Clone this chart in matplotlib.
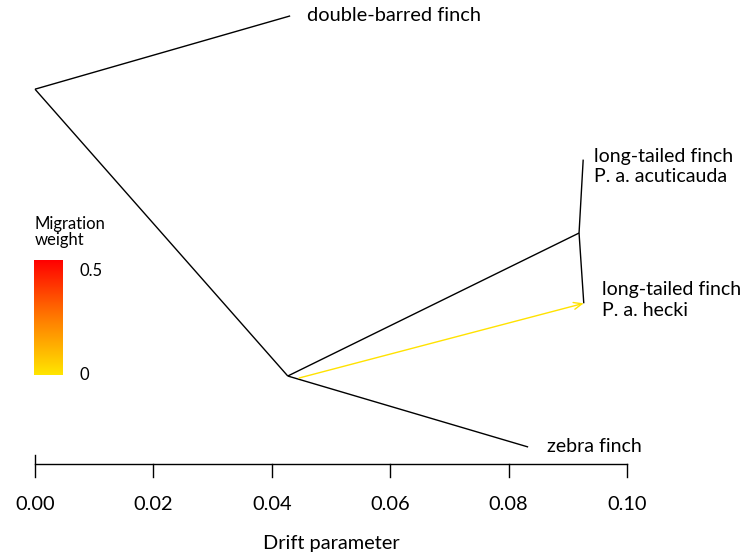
import matplotlib
matplotlib.use("Agg")
import matplotlib.pyplot as plt
import numpy as np
from matplotlib.colors import LinearSegmentedColormap

# population tree: drift along x, tip rank along y
NODE_NAMES = ["root", "double_barred", "anc", "zebra", "lt_anc", "acuticauda", "hecki"]
NODE_DRIFT = [0.0, 0.0431, 0.0427, 0.0833, 0.0919, 0.0926, 0.0927]
NODE_Y = [2.49, 3.0, 0.494, 0.0, 1.489, 2.0, 1.0]
EDGES = [("root", "double_barred"), ("root", "anc"), ("anc", "zebra"),
         ("anc", "lt_anc"), ("lt_anc", "acuticauda"), ("lt_anc", "hecki")]

TIP_NAMES = ["double_barred", "acuticauda", "hecki", "zebra"]
TIP_LABELS = ["double-barred finch", "long-tailed finch\nP. a. acuticauda",
              "long-tailed finch\nP. a. hecki", "zebra finch"]

# migration edge (source point on the anc->zebra branch, target tip)
MIG_SRC_DRIFT = 0.0446
MIG_SRC_Y = 0.480
MIG_TARGET = "hecki"
MIG_WEIGHT = 0.01

SCALE_TICKS = [0.00, 0.02, 0.04, 0.06, 0.08, 0.10]
LEGEND_TICKS = [0, 0.5]

FONT = ["Lato", "DejaVu Sans"]
plt.rcParams["font.family"] = FONT
FS_TIP = 14.0
FS = 14.4
FS_LEG = 12

W, H = 743, 557
fig = plt.figure(figsize=(W / 100, H / 100), dpi=100)
ax = fig.add_axes([0, 0, 1, 1])

# pixel calibration: drift 0 at x=35, 0.10 at x=627; tip rank 0 at y=447, 143.7 px per rank
px_per_drift = 5920.0
x0_px = 35
px_per_rank = 143.7
y0_px = 447
ax.set_xlim(-x0_px / px_per_drift, (W - x0_px) / px_per_drift)
ax.set_ylim(-(H - y0_px) / px_per_rank, y0_px / px_per_rank)
ax.axis("off")

def dx(px):
    return px / px_per_drift

def dy(px):
    return px / px_per_rank

pos = {n: (x, y) for n, x, y in zip(NODE_NAMES, NODE_DRIFT, NODE_Y)}

for a, b in EDGES:
    ax.plot([pos[a][0], pos[b][0]], [pos[a][1], pos[b][1]], color="black", lw=1.0,
            solid_capstyle="butt")

heat = LinearSegmentedColormap.from_list("heat", ["#FFE600", "#FF7A00", "#FF0000"])
mig_col = heat(MIG_WEIGHT / 0.5)
tx, ty = pos[MIG_TARGET]
ax.annotate("", xy=(tx, ty), xytext=(MIG_SRC_DRIFT, MIG_SRC_Y),
            arrowprops=dict(arrowstyle="->,head_length=0.6,head_width=0.25",
                            color=mig_col, lw=1.0, shrinkA=0, shrinkB=0))

# tip labels
label_dx = {"double_barred": 17, "acuticauda": 11, "hecki": 18, "zebra": 19}
label_dy = {"double_barred": 0, "acuticauda": -7, "hecki": 3, "zebra": 0}
for name, lab in zip(TIP_NAMES, TIP_LABELS):
    x, y = pos[name]
    fs = FS if name == "double_barred" else FS_TIP
    ax.text(x + dx(label_dx[name]), y + dy(label_dy[name]), lab, ha="left", va="center",
            fontsize=fs, linespacing=1.27)

# drift scale bar
ax_y = dy(-17)
tick_lo = dy(-30)
ax.plot([SCALE_TICKS[0], SCALE_TICKS[-1]], [ax_y, ax_y], color="black", lw=1.0)
for i, t in enumerate(SCALE_TICKS):
    top = dy(-8) if i == 0 else ax_y
    ax.plot([t, t], [top, tick_lo], color="black", lw=1.0)
    ax.text(t, dy(-58), f"{t:.2f}", ha="center", va="center", fontsize=FS)
ax.text(np.mean([SCALE_TICKS[0], SCALE_TICKS[-1]]), dy(-96), "Drift parameter",
        ha="center", va="center", fontsize=FS)

# migration weight legend
bar_x0, bar_x1 = dx(34 - x0_px), dx(63 - x0_px)
bar_y0, bar_y1 = dy(y0_px - 375), dy(y0_px - 260)
grad = np.linspace(0, 1, 256).reshape(-1, 1)
ax.imshow(grad, cmap=heat, origin="lower", aspect="auto",
          extent=[bar_x0, bar_x1, bar_y0, bar_y1], interpolation="bilinear")
for v in LEGEND_TICKS:
    yy = bar_y0 + (bar_y1 - bar_y0) * v / LEGEND_TICKS[-1]
    ax.text(dx(80 - x0_px), yy + (dy(-11) if v == LEGEND_TICKS[-1] else 0), f"{v:g}",
            ha="left", va="center", fontsize=FS_LEG)
ax.text(dx(35 - x0_px), dy(y0_px - 232), "Migration\nweight", ha="left", va="center",
        fontsize=FS_LEG, linespacing=1.0)

fig.savefig("out.png", dpi=100)
